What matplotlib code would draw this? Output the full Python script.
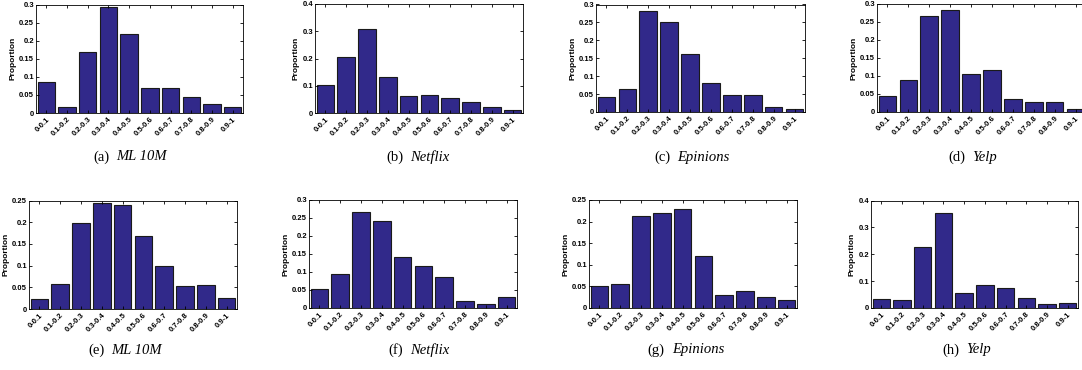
import matplotlib
matplotlib.use("Agg")
import matplotlib.pyplot as plt
import numpy as np

plt.rcParams["font.family"] = "Liberation Sans"

bins = ["0-0.1", "0.1-0.2", "0.2-0.3", "0.3-0.4", "0.4-0.5",
        "0.5-0.6", "0.6-0.7", "0.7-0.8", "0.8-0.9", "0.9-1"]

ml10m_a = [0.085, 0.017, 0.168, 0.294, 0.219, 0.068, 0.068, 0.043, 0.025, 0.017]
netflix_b = [0.102, 0.204, 0.307, 0.133, 0.061, 0.066, 0.056, 0.042, 0.021, 0.011]
epinions_c = [0.041, 0.064, 0.282, 0.251, 0.162, 0.081, 0.047, 0.047, 0.015, 0.007]
yelp_d = [0.0435, 0.089, 0.267, 0.284, 0.106, 0.116, 0.036, 0.027, 0.027, 0.009]
ml10m_e = [0.024, 0.057, 0.198, 0.245, 0.239, 0.168, 0.098, 0.052, 0.056, 0.026]
netflix_f = [0.053, 0.094, 0.266, 0.243, 0.142, 0.117, 0.086, 0.020, 0.011, 0.030]
epinions_g = [0.051, 0.055, 0.212, 0.219, 0.230, 0.120, 0.029, 0.039, 0.026, 0.018]
yelp_h = [0.033, 0.028, 0.226, 0.352, 0.056, 0.085, 0.075, 0.036, 0.016, 0.019]

series = [ml10m_a, netflix_b, epinions_c, yelp_d, ml10m_e, netflix_f, epinions_g, yelp_h]
captions = [("(a)", "ML 10M"), ("(b)", "Netflix"), ("(c)", "Epinions"), ("(d)", "Yelp"),
            ("(e)", "ML 10M"), ("(f)", "Netflix"), ("(g)", "Epinions"), ("(h)", "Yelp")]
ylims = [0.3, 0.4, 0.3, 0.3, 0.25, 0.3, 0.25, 0.4]
yticks = [[0, 0.05, 0.1, 0.15, 0.2, 0.25, 0.3],
          [0, 0.1, 0.2, 0.3, 0.4],
          [0, 0.05, 0.1, 0.15, 0.2, 0.25, 0.3],
          [0, 0.05, 0.1, 0.15, 0.2, 0.25, 0.3],
          [0, 0.05, 0.1, 0.15, 0.2, 0.25],
          [0, 0.05, 0.1, 0.15, 0.2, 0.25, 0.3],
          [0, 0.05, 0.1, 0.15, 0.2, 0.25],
          [0, 0.1, 0.2, 0.3, 0.4]]

W, H = 1082, 370
boxes = [(36, 243, 4.5, 113), (315, 523, 4, 113), (596, 805, 4.5, 112), (877, 1086, 4, 112),
         (29, 237, 200.5, 309), (309, 517, 200, 308), (589, 797, 200, 308), (871, 1078, 200.5, 308)]
cap_pos = [(130, 157), (418, 157), (692, 157), (973, 157),
           (125, 350), (419, 350), (686, 350), (967, 350)]

fig = plt.figure(figsize=(W / 100, H / 100), dpi=100)
bar_color = "#31298a"
renderer = fig.canvas.get_renderer()

for i, vals in enumerate(series):
    l, r, t, b = boxes[i]
    ax = fig.add_axes([l / W, 1 - b / H, (r - l) / W, (b - t) / H])
    x = np.arange(len(bins))
    ax.bar(x, vals, width=0.84, color=bar_color, edgecolor="#1a1a1a", linewidth=0.8)
    ax.set_xlim(-0.5, 9.5)
    ax.set_ylim(0, ylims[i])
    ax.set_yticks(yticks[i])
    ax.set_yticklabels(["%g" % v for v in yticks[i]], fontsize=5.5, fontweight="bold")
    ax.set_xticks(x)
    ax.set_xticklabels(bins, rotation=45, ha="right", rotation_mode="anchor",
                       fontsize=5.5, fontweight="bold")
    ax.tick_params(direction="in", length=2.5, width=0.6, top=True, right=True, pad=1.5)
    ax.tick_params(axis="x", pad=2)
    ax.set_ylabel("Proportion", fontsize=6, fontweight="bold", labelpad=2)
    for s in ax.spines.values():
        s.set_linewidth(0.6)

    tag, name = captions[i]
    cx, cy = cap_pos[i]
    t1 = fig.text(0, 1 - cy / H, tag, ha="left", va="center", fontsize=10.5,
                  family="Liberation Serif")
    t2 = fig.text(0, 1 - cy / H, name, ha="left", va="center", fontsize=10.5,
                  family="Liberation Serif", style="italic")
    w1 = t1.get_window_extent(renderer).width
    w2 = t2.get_window_extent(renderer).width
    gap = 7
    total = w1 + gap + w2
    x0 = cx - total / 2
    t1.set_x(x0 / W)
    t2.set_x((x0 + w1 + gap) / W)

fig.savefig("out.png", dpi=100)
